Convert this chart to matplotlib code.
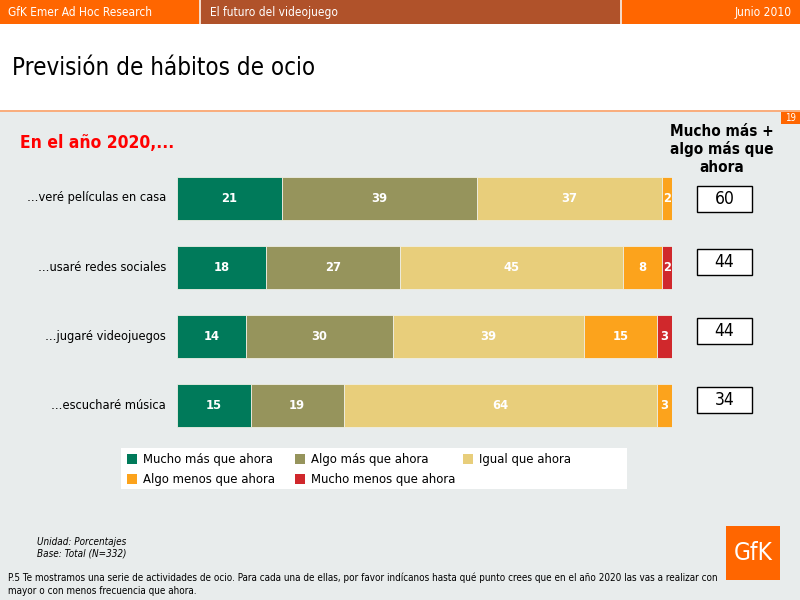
import matplotlib
matplotlib.use('Agg')
import matplotlib.pyplot as plt
from matplotlib.patches import Rectangle
from matplotlib import font_manager as fm

# ---------------- data ----------------
categories = ['…veré películas en casa', '…usaré redes sociales',
              '…jugaré videojuegos', '…escucharé música']
series_names = ['Mucho más que ahora', 'Algo más que ahora', 'Igual que ahora',
                'Algo menos que ahora', 'Mucho menos que ahora']
mucho_mas = [21, 18, 14, 15]
algo_mas = [39, 27, 30, 19]
igual = [37, 45, 39, 64]
algo_menos = [2, 8, 15, 3]
mucho_menos = [0, 2, 3, 0]
mas_total = [60, 44, 44, 34]
series = [mucho_mas, algo_mas, igual, algo_menos, mucho_menos]
colors = ['#007A5A', '#96945C', '#E8CE7B', '#FCA31C', '#D0282C']

# ---------------- fonts ----------------
has_cond = any(f.name == 'DejaVu Sans' and f.stretch in ('condensed', 'semi-condensed')
               for f in fm.fontManager.ttflist)
plt.rcParams['font.family'] = ['DejaVu Sans']
plt.rcParams['font.stretch'] = 'condensed' if has_cond else 'normal'

W, H = 800, 600
fig = plt.figure(figsize=(8, 6), dpi=100)
fig.patch.set_facecolor('#E8ECEC')


def fx(x):
    return x / W


def fy(y):
    return 1 - y / H


def rect(x0, y0, x1, y1, **kw):
    fig.add_artist(Rectangle((fx(x0), fy(y1)), fx(x1) - fx(x0), fy(y0) - fy(y1),
                             transform=fig.transFigure, linewidth=0, **kw))


def ftext(x, y, s, **kw):
    fig.text(fx(x), fy(y), s, **kw)


# ---------------- page frame ----------------
rect(0, 0, 800, 24, facecolor='#FF6600')
rect(200, 0, 620, 24, facecolor='#B0522A')
rect(199, 0, 200.5, 24, facecolor='#F4D9C8')
rect(620, 0, 621.5, 24, facecolor='#F4D9C8')
rect(0, 24, 800, 109.5, facecolor='white')
rect(0, 109.5, 800, 111.5, facecolor='#F9AE7E')
rect(781, 112, 800, 123.5, facecolor='#FF6600')
ftext(790.5, 118, '19', color='white', fontsize=7, ha='center', va='center')

ftext(8, 12.5, 'GfK Emer Ad Hoc Research', color='white', fontsize=8.6, va='center')
ftext(210, 12.5, 'El futuro del videojuego', color='white', fontsize=8.6, va='center')
ftext(792, 12.5, 'Junio 2010', color='white', fontsize=8.6, va='center', ha='right')

ftext(12, 68, 'Previsión de hábitos de ocio', color='black', fontsize=17.3, va='center')

ftext(20, 143, 'En el año 2020,...', color='#FF0000', fontsize=12.5,
      fontweight='bold', va='center')
ftext(722, 149, 'Mucho más +\nalgo más que\nahora', color='black', fontsize=11,
      fontweight='bold', va='center', ha='center', linespacing=1.2)

# ---------------- bars ----------------
slot = 69.3
top = 198 - slot / 2
ax = fig.add_axes([fx(177), fy(top + 4 * slot), fx(672) - fx(177), 4 * slot / H])
ax.set_xlim(0, 100)
ax.set_ylim(3.5, -0.5)
ax.axis('off')

ypos = list(range(len(categories)))
totals = [sum(s[i] for s in series) for i in ypos]
lefts = [0.0] * len(categories)
bar_h = 43 / slot
for vals, col in zip(series, colors):
    widths = [v / t * 100 for v, t in zip(vals, totals)]
    ax.barh(ypos, widths, left=lefts, height=bar_h, color=col,
            edgecolor='#EEEEE4', linewidth=0.6)
    for i, (v, w) in enumerate(zip(vals, widths)):
        if v > 0:
            ax.text(lefts[i] + w / 2, i, str(v), color='white', fontsize=9.3,
                    fontweight='bold', ha='center', va='center')
    lefts = [l + w for l, w in zip(lefts, widths)]

px = 100 / 495.0  # data units per pixel (x)
for i, cat in enumerate(categories):
    ax.text(-11 * px, i, cat, ha='right', va='center', fontsize=9.2, color='black',
            clip_on=False)

box_offsets = [1, -5, -6, -6]  # pixel shift of the summary boxes
for i, v in enumerate(mas_total):
    cy = i + box_offsets[i] / slot
    bh = 26 / slot
    ax.add_patch(Rectangle(((697 - 177) * px, cy - bh / 2), 55 * px, bh,
                           facecolor='white', edgecolor='black', linewidth=1,
                           clip_on=False))
    ax.text((724.5 - 177) * px, cy, str(v), ha='center', va='center', fontsize=12.5,
            color='black', clip_on=False)

# ---------------- legend ----------------
rect(121, 448, 627, 489, facecolor='white')
leg_pos = [(127, 459), (295, 459), (463, 459), (127, 479), (295, 479)]
for (lx, ly), name, col in zip(leg_pos, series_names, colors):
    rect(lx, ly - 5, lx + 10, ly + 5, facecolor=col)
    ftext(lx + 16, ly, name, fontsize=9.4, va='center', color='black')

# ---------------- footnotes ----------------
ftext(37, 542, 'Unidad: Porcentajes', fontsize=7.1, style='italic', va='center')
ftext(37, 553, 'Base: Total (N=332)', fontsize=7.1, style='italic', va='center')
ftext(8, 578, 'P.5 Te mostramos una serie de actividades de ocio. Para cada una de ellas, '
      'por favor indícanos hasta qué punto crees que en el año 2020 las vas a realizar con',
      fontsize=7.1, va='center')
ftext(8, 591, 'mayor o con menos frecuencia que ahora.', fontsize=7.1, va='center')

rect(726, 526, 780, 580, facecolor='#FF6600')
ftext(753, 553, 'GfK', color='white', fontsize=17.5, ha='center', va='center')

fig.savefig('out.png', dpi=100, facecolor=fig.get_facecolor())
